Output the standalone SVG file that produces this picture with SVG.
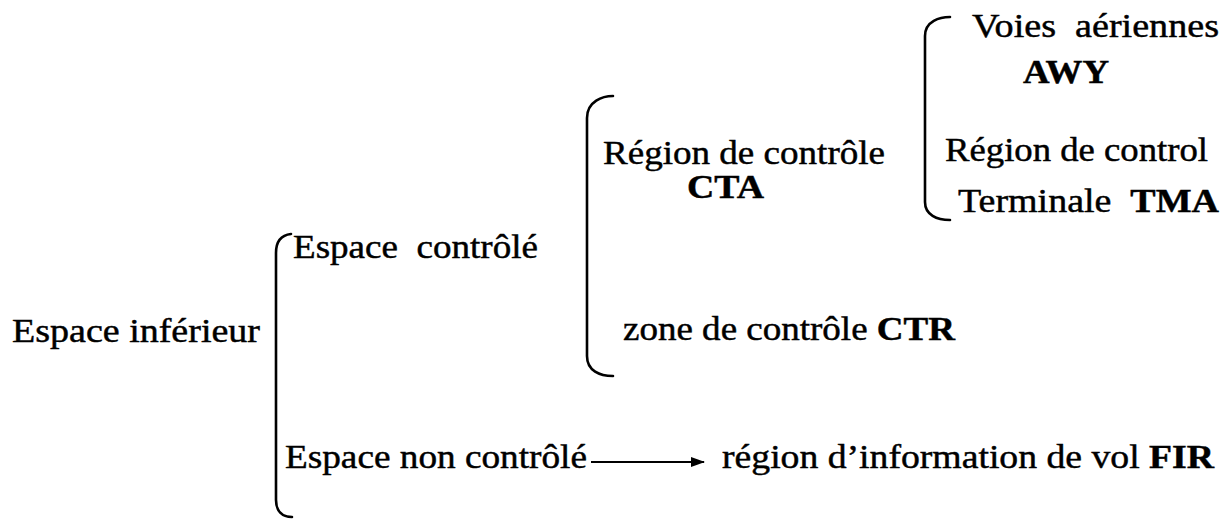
<svg xmlns="http://www.w3.org/2000/svg" width="1223" height="519" viewBox="0 0 1223 519">
  <style>
    text { font-family: "Liberation Serif", "Times New Roman", serif; font-size: 33px; fill: #000; stroke: #000; stroke-width: 0.45; }
    .b { font-weight: bold; }
    .brace { fill: none; stroke: #000; stroke-width: 2.6; stroke-linecap: round; }
    .link { fill: none; stroke: #000; stroke-width: 2; }
  </style>
  <defs>
    <marker id="head" markerWidth="14" markerHeight="10" refX="13" refY="5" orient="auto" markerUnits="userSpaceOnUse">
      <path d="M0,0 L14,5 L0,10 Z" fill="#000"/>
    </marker>
  </defs>

  <!-- bracket and arrow connectors -->
  <g id="connectors">
    <path class="brace" d="M291 234 C282 235 276 241 276 253 L276 500 C276 511 282 517 292 517"/>
    <path class="brace" d="M613 96 C603 96 587 101 587 118 L587 356 C587 371 600 376 613 376"/>
    <path class="brace" d="M950 17 C940 17 925 21 925 36 L925 202 C925 215 937 220 950 220"/>
    <line class="link" x1="591" y1="462" x2="704" y2="462" marker-end="url(#head)"/>
  </g>

  <g id="espace-inferieur">
    <text x="12" y="342" textLength="248" lengthAdjust="spacingAndGlyphs">Espace inférieur</text>
  </g>
  <g id="espace-controle">
    <text x="293" y="258" textLength="245" lengthAdjust="spacingAndGlyphs" xml:space="preserve">Espace  contrôlé</text>
  </g>
  <g id="espace-non-controle">
    <text x="285" y="468" textLength="302" lengthAdjust="spacingAndGlyphs">Espace non contrôlé</text>
  </g>
  <g id="fir">
    <text x="722" y="468" textLength="492" lengthAdjust="spacingAndGlyphs">région d’information de vol <tspan class="b">FIR</tspan></text>
  </g>
  <g id="cta">
    <text x="603" y="164" textLength="282" lengthAdjust="spacingAndGlyphs">Région de contrôle</text>
    <text x="687" y="198" class="b" textLength="77" lengthAdjust="spacingAndGlyphs">CTA</text>
  </g>
  <g id="ctr">
    <text x="623" y="340" textLength="332" lengthAdjust="spacingAndGlyphs">zone de contrôle <tspan class="b">CTR</tspan></text>
  </g>
  <g id="awy">
    <text x="972" y="37" textLength="247" lengthAdjust="spacingAndGlyphs" xml:space="preserve">Voies  aériennes</text>
    <text x="1023" y="83" class="b" textLength="86" lengthAdjust="spacingAndGlyphs">AWY</text>
  </g>
  <g id="tma">
    <text x="945" y="161" textLength="263" lengthAdjust="spacingAndGlyphs">Région de control</text>
    <text x="958" y="212" textLength="261" lengthAdjust="spacingAndGlyphs" xml:space="preserve">Terminale  <tspan class="b">TMA</tspan></text>
  </g>
</svg>
